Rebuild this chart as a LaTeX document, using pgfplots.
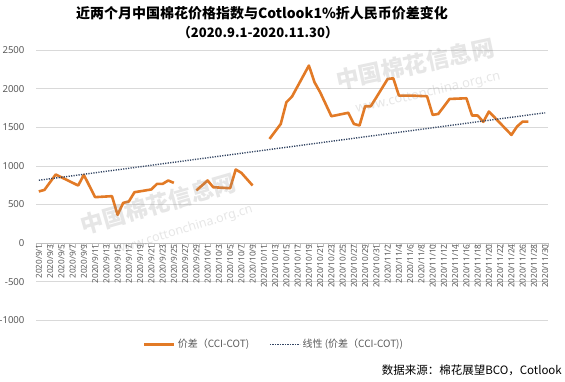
\documentclass[border=0pt]{standalone}
\usepackage{pgfplots}
\pgfplotsset{compat=1.18}
\usepackage{fontspec}
\setmainfont{Noto Sans}
\newfontfamily\cjk{Noto Sans CJK SC}
\definecolor{orng}{RGB}{226,122,38}
\definecolor{trend}{RGB}{52,70,100}
\definecolor{gridc}{RGB}{217,217,217}
\definecolor{txt}{RGB}{89,89,89}
\begin{document}
\begin{tikzpicture}[x=1pt,y=1pt]
\path[use as bounding box] (0,0) rectangle (565,382);
\begin{axis}[
  at={(64,80)}, anchor=south west,
  scale only axis, width=512pt, height=270pt,
  xmin=-0.5, xmax=90.5, ymin=-1000, ymax=2500,
  axis x line*=middle, axis y line*=left,
  hide obscured x ticks=false, hide obscured y ticks=false,
  y axis line style={draw=none},
  x axis line style={draw=black!25, line width=0.8pt},
  ytick={-1000,-500,...,2500},
  yticklabels={-1000,-500,0,500,1000,1500,2000,2500},
  ymajorgrids, grid style={gridc, line width=0.8pt},
  yticklabel style={font=\fontsize{9.6}{12}\selectfont, text=txt, xshift=-8pt},
  xtick={0,2,...,90},
  xticklabels={2020/9/1,2020/9/3,2020/9/5,2020/9/7,2020/9/9,2020/9/11,2020/9/13,2020/9/15,2020/9/17,2020/9/19,2020/9/21,2020/9/23,2020/9/25,2020/9/27,2020/9/29,2020/10/1,2020/10/3,2020/10/5,2020/10/7,2020/10/9,2020/10/11,2020/10/13,2020/10/15,2020/10/17,2020/10/19,2020/10/21,2020/10/23,2020/10/25,2020/10/27,2020/10/29,2020/10/31,2020/11/2,2020/11/4,2020/11/6,2020/11/8,2020/11/10,2020/11/12,2020/11/14,2020/11/16,2020/11/18,2020/11/20,2020/11/22,2020/11/24,2020/11/26,2020/11/28,2020/11/30},
  xticklabel style={font=\fontsize{8.2}{9}\selectfont, text=txt, rotate=90, anchor=east, inner sep=1pt},
  minor xtick={-0.5,0.5,...,90.5},
  tick align=outside,
  major tick length=0pt, minor tick length=4pt,
  minor x tick style={draw=black!25, line width=0.6pt},
  major x tick style={draw=none},
  legend style={at={(0.465,-0.089)}, anchor=center, draw=none, fill=none,
    legend columns=2, font=\cjk\fontsize{10}{12}\selectfont, text=txt,
    /tikz/every even column/.append style={column sep=18pt}},
  legend image code/.code={\draw[#1] (0pt,0pt) -- (30pt,0pt);},
  unbounded coords=jump,
  clip=false,
]
\addplot[orng, line width=2.6pt, line join=round] coordinates {
(0,670) (1,690) (3,890) (7,747) (8,885) (10,596) (13,609) (14,367) (15,522) (16,540) (17,660) (20,696) (21,768) (22,768) (23,812) (24,781)
(26,nan)
(28,683) (30,812) (31,725) (34,712) (35,955) (36,911) (38,747)
(40,nan)
(41,1351) (43,1545) (44,1826) (45,1900) (48,2302) (49,2085) (50,1956) (52,1645) (55,1690) (56,1545) (57,1525) (58,1775) (59,1775) (60,1891) (62,2128) (63,2137) (64,1913) (66,1913) (69,1904) (70,1662) (71,1675) (73,1869) (76,1878) (77,1654) (78,1654) (79,1572) (80,1706) (84,1403) (85,1512) (86,1576) (87,1576)
};
\addplot[trend, line width=1.4pt, dash pattern=on 1.2pt off 1.3pt] coordinates {(0,815) (90,1690)};
\legend{价差（CCI-COT),线性 (价差（CCI-COT))}
\end{axis}
% watermarks
\begin{scope}[opacity=0.22]
\node[rotate=16, font=\cjk\bfseries\fontsize{23}{26}\selectfont, text=black!45] at (158,178) {中国棉花信息网};
\node[rotate=17, font=\fontsize{12.5}{14}\selectfont, text=black!45] at (184,152) {www.cottonchina.org.cn};
\node[rotate=12, font=\cjk\bfseries\fontsize{23}{26}\selectfont, text=black!45] at (415,318) {中国棉花信息网};
\node[rotate=13, font=\fontsize{13}{15}\selectfont, text=black!45] at (428,289) {www.cottonchina.org.cn};
\end{scope}
\node[font=\cjk\bfseries\fontsize{14}{17}\selectfont] at (262,369) {近两个月中国棉花价格指数与Cotlook1\%折人民币价差变化};
\node[font=\cjk\bfseries\fontsize{13}{16}\selectfont] at (258,349) {（2020.9.1-2020.11.30）};
\node[anchor=east, font=\cjk\fontsize{11.5}{14}\selectfont, inner sep=0pt] at (562,12) {数据来源：棉花展望BCO，Cotlook};
\end{tikzpicture}
\end{document}
